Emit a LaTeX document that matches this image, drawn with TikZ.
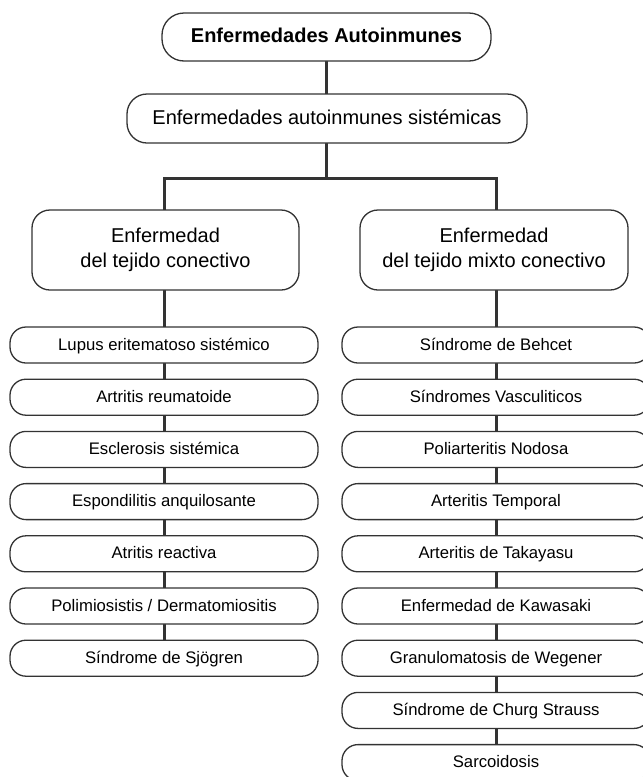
\documentclass[tikz,border=0pt]{standalone}
\usepackage{fontspec}
\setmainfont{Liberation Sans}
\definecolor{ln}{HTML}{333333}
\begin{document}
\begin{tikzpicture}[x=1pt,y=-1pt,
  box/.style={draw=ln,line width=1.3pt,fill=white,align=center,inner sep=0pt,text=black},
  bigfont/.style={font=\fontsize{20}{25}\selectfont},
  bigtxt/.style={bigfont,text height=14pt,text depth=3pt},
  smalltxt/.style={font=\fontsize{16.7}{20}\selectfont,text height=12pt,text depth=2pt},
  item/.style={box,smalltxt,minimum width=308pt,minimum height=36pt,rounded corners=16pt},
  conn/.style={draw=ln,line width=3pt}]
\useasboundingbox (0,0) rectangle (643,777);
\clip (0,0) rectangle (643,777);
% connectors first
\coordinate (j) at (326.5,178);
\coordinate (jl) at (164,178);
\coordinate (jr) at (496,178);
\draw[conn] (326.5,61) -- (326.5,94);
\draw[conn] (326.5,143) -- (j);
\draw[conn] (164,210) -- (jl) -- (jr) -- (496,210);
\draw[conn] (164,290) -- (164,650);
\draw[conn] (496,290) -- (496,760);
% nodes
\node[box,bigtxt,font=\fontsize{20}{25}\selectfont\bfseries,minimum width=329pt,minimum height=48pt,rounded corners=22pt] (top) at (326.5,37) {Enfermedades Autoinmunes};
\node[box,bigtxt,minimum width=400pt,minimum height=49pt,rounded corners=20pt] (sis) at (327,118.5) {Enfermedades autoinmunes sistémicas};
\node[box,bigfont,minimum width=267pt,minimum height=80pt,rounded corners=18pt] (L) at (165.5,250) {\strut Enfermedad\\del tejido conectivo\strut};
\node[box,bigfont,minimum width=268pt,minimum height=80pt,rounded corners=18pt] (R) at (494,250) {\strut Enfermedad\\del tejido mixto conectivo\strut};
% left list
\foreach \t [count=\i from 0] in {Lupus eritematoso sistémico,Artritis reumatoide,Esclerosis sistémica,Espondilitis anquilosante,Atritis reactiva,Polimiosistis / Dermatomiositis,Síndrome de Sjögren}{
  \node[item] (l\i) at (164,345+52.2*\i) {\t};
}
% right list
\foreach \t [count=\i from 0] in {Síndrome de Behcet,Síndromes Vasculiticos,Poliarteritis Nodosa,Arteritis Temporal,Arteritis de Takayasu,Enfermedad de Kawasaki,Granulomatosis de Wegener,Síndrome de Churg Strauss,Sarcoidosis}{
  \node[item] (r\i) at (496,345+52.2*\i) {\t};
}
\end{tikzpicture}
\end{document}
